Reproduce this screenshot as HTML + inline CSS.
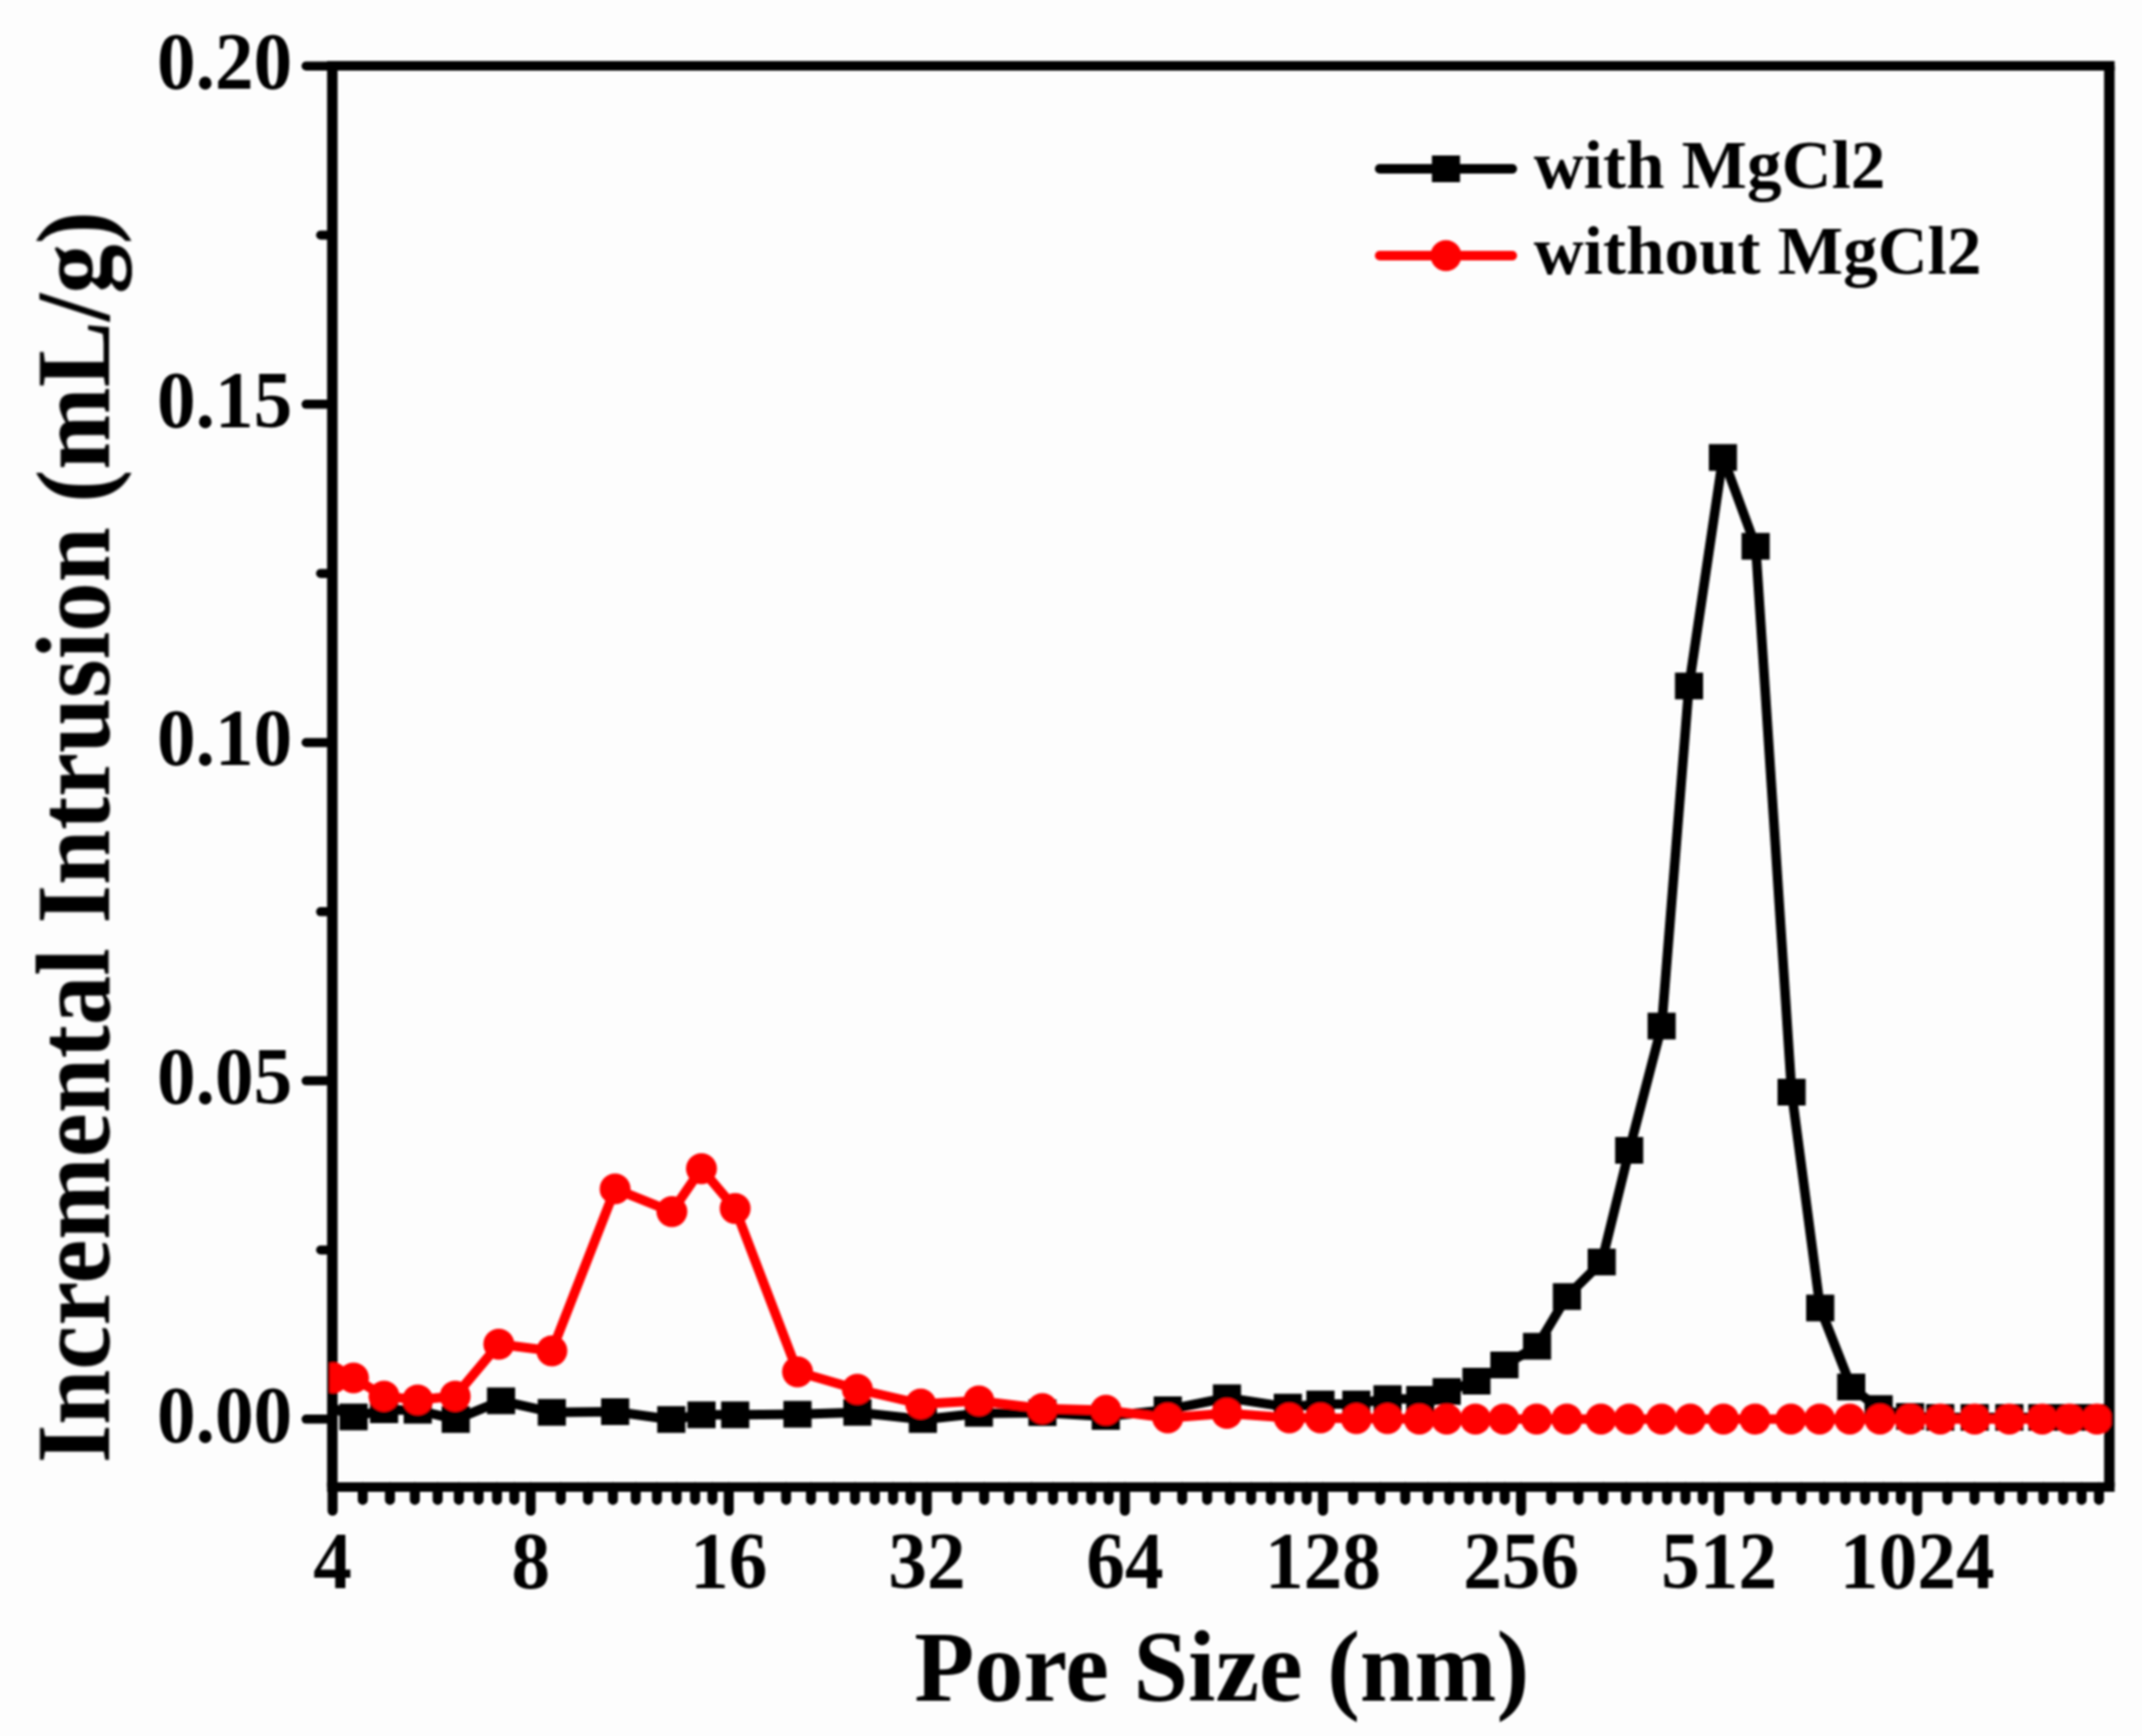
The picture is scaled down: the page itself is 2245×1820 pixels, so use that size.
<!DOCTYPE html>
<html lang="en"><head><meta charset="utf-8"><title>Pore size distribution</title>
<style>
html,body{margin:0;padding:0;background:#fdfdfd;}
body{width:2245px;height:1820px;overflow:hidden;}
svg{display:block;}
text{font-family:"Liberation Serif","Times New Roman",Times,serif;font-weight:bold;fill:#000;}
.tick{font-size:84px;}
.title{font-size:103px;}
.leg{font-size:72.5px;}
</style></head><body>
<svg width="2245" height="1820" viewBox="0 0 2245 1820">
<rect x="0" y="0" width="2245" height="1820" fill="#fdfdfd"/>
<defs><filter id="soft" x="0" y="0" width="2245" height="1820" filterUnits="userSpaceOnUse"><feGaussianBlur stdDeviation="1.1"/></filter><clipPath id="plot"><rect x="345.3" y="69.1" width="1867.5000000000002" height="1489.9"/></clipPath></defs>

<g filter="url(#soft)">
<g id="axes" stroke="#000" stroke-width="9.5" stroke-linecap="round" fill="none">
<line x1="342.8" y1="69.1" x2="2216.3" y2="69.1" stroke-width="10.0" stroke-linecap="butt"/>
<line x1="342.8" y1="1559.0" x2="2216.3" y2="1559.0" stroke-width="10.0" stroke-linecap="butt"/>
<line x1="348.3" y1="69.1" x2="348.3" y2="1559.0" stroke-width="11.0" stroke-linecap="butt"/>
<line x1="2210.8" y1="69.1" x2="2210.8" y2="1559.0" stroke-width="11.0" stroke-linecap="butt"/>
<line x1="320.8" y1="1487.8" x2="347.3" y2="1487.8"/>
<line x1="320.8" y1="1133.1" x2="347.3" y2="1133.1"/>
<line x1="320.8" y1="778.5" x2="347.3" y2="778.5"/>
<line x1="320.8" y1="423.8" x2="347.3" y2="423.8"/>
<line x1="320.8" y1="69.2" x2="347.3" y2="69.2"/>
<line x1="336.0" y1="1310.5" x2="347.3" y2="1310.5"/>
<line x1="336.0" y1="955.8" x2="347.3" y2="955.8"/>
<line x1="336.0" y1="601.2" x2="347.3" y2="601.2"/>
<line x1="336.0" y1="246.5" x2="347.3" y2="246.5"/>
<line x1="348.6" y1="1559.0" x2="348.6" y2="1583.8" stroke-width="10.5"/>
<line x1="380.2" y1="1559.0" x2="380.2" y2="1572.4" stroke-width="10.5"/>
<line x1="408.7" y1="1559.0" x2="408.7" y2="1572.4" stroke-width="10.5"/>
<line x1="434.8" y1="1559.0" x2="434.8" y2="1572.4" stroke-width="10.5"/>
<line x1="458.7" y1="1559.0" x2="458.7" y2="1572.4" stroke-width="10.5"/>
<line x1="480.9" y1="1559.0" x2="480.9" y2="1572.4" stroke-width="10.5"/>
<line x1="501.6" y1="1559.0" x2="501.6" y2="1572.4" stroke-width="10.5"/>
<line x1="520.9" y1="1559.0" x2="520.9" y2="1572.4" stroke-width="10.5"/>
<line x1="539.1" y1="1559.0" x2="539.1" y2="1572.4" stroke-width="10.5"/>
<line x1="556.2" y1="1559.0" x2="556.2" y2="1583.8" stroke-width="10.5"/>
<line x1="587.8" y1="1559.0" x2="587.8" y2="1572.4" stroke-width="10.5"/>
<line x1="616.3" y1="1559.0" x2="616.3" y2="1572.4" stroke-width="10.5"/>
<line x1="642.4" y1="1559.0" x2="642.4" y2="1572.4" stroke-width="10.5"/>
<line x1="666.3" y1="1559.0" x2="666.3" y2="1572.4" stroke-width="10.5"/>
<line x1="688.5" y1="1559.0" x2="688.5" y2="1572.4" stroke-width="10.5"/>
<line x1="709.2" y1="1559.0" x2="709.2" y2="1572.4" stroke-width="10.5"/>
<line x1="728.5" y1="1559.0" x2="728.5" y2="1572.4" stroke-width="10.5"/>
<line x1="746.7" y1="1559.0" x2="746.7" y2="1572.4" stroke-width="10.5"/>
<line x1="763.8" y1="1559.0" x2="763.8" y2="1583.8" stroke-width="10.5"/>
<line x1="795.4" y1="1559.0" x2="795.4" y2="1572.4" stroke-width="10.5"/>
<line x1="823.9" y1="1559.0" x2="823.9" y2="1572.4" stroke-width="10.5"/>
<line x1="850.0" y1="1559.0" x2="850.0" y2="1572.4" stroke-width="10.5"/>
<line x1="873.9" y1="1559.0" x2="873.9" y2="1572.4" stroke-width="10.5"/>
<line x1="896.1" y1="1559.0" x2="896.1" y2="1572.4" stroke-width="10.5"/>
<line x1="916.8" y1="1559.0" x2="916.8" y2="1572.4" stroke-width="10.5"/>
<line x1="936.1" y1="1559.0" x2="936.1" y2="1572.4" stroke-width="10.5"/>
<line x1="954.3" y1="1559.0" x2="954.3" y2="1572.4" stroke-width="10.5"/>
<line x1="971.4" y1="1559.0" x2="971.4" y2="1583.8" stroke-width="10.5"/>
<line x1="1003.0" y1="1559.0" x2="1003.0" y2="1572.4" stroke-width="10.5"/>
<line x1="1031.5" y1="1559.0" x2="1031.5" y2="1572.4" stroke-width="10.5"/>
<line x1="1057.6" y1="1559.0" x2="1057.6" y2="1572.4" stroke-width="10.5"/>
<line x1="1081.5" y1="1559.0" x2="1081.5" y2="1572.4" stroke-width="10.5"/>
<line x1="1103.7" y1="1559.0" x2="1103.7" y2="1572.4" stroke-width="10.5"/>
<line x1="1124.4" y1="1559.0" x2="1124.4" y2="1572.4" stroke-width="10.5"/>
<line x1="1143.7" y1="1559.0" x2="1143.7" y2="1572.4" stroke-width="10.5"/>
<line x1="1161.9" y1="1559.0" x2="1161.9" y2="1572.4" stroke-width="10.5"/>
<line x1="1179.0" y1="1559.0" x2="1179.0" y2="1583.8" stroke-width="10.5"/>
<line x1="1210.6" y1="1559.0" x2="1210.6" y2="1572.4" stroke-width="10.5"/>
<line x1="1239.1" y1="1559.0" x2="1239.1" y2="1572.4" stroke-width="10.5"/>
<line x1="1265.2" y1="1559.0" x2="1265.2" y2="1572.4" stroke-width="10.5"/>
<line x1="1289.1" y1="1559.0" x2="1289.1" y2="1572.4" stroke-width="10.5"/>
<line x1="1311.3" y1="1559.0" x2="1311.3" y2="1572.4" stroke-width="10.5"/>
<line x1="1332.0" y1="1559.0" x2="1332.0" y2="1572.4" stroke-width="10.5"/>
<line x1="1351.3" y1="1559.0" x2="1351.3" y2="1572.4" stroke-width="10.5"/>
<line x1="1369.5" y1="1559.0" x2="1369.5" y2="1572.4" stroke-width="10.5"/>
<line x1="1386.6" y1="1559.0" x2="1386.6" y2="1583.8" stroke-width="10.5"/>
<line x1="1418.2" y1="1559.0" x2="1418.2" y2="1572.4" stroke-width="10.5"/>
<line x1="1446.7" y1="1559.0" x2="1446.7" y2="1572.4" stroke-width="10.5"/>
<line x1="1472.8" y1="1559.0" x2="1472.8" y2="1572.4" stroke-width="10.5"/>
<line x1="1496.7" y1="1559.0" x2="1496.7" y2="1572.4" stroke-width="10.5"/>
<line x1="1518.9" y1="1559.0" x2="1518.9" y2="1572.4" stroke-width="10.5"/>
<line x1="1539.6" y1="1559.0" x2="1539.6" y2="1572.4" stroke-width="10.5"/>
<line x1="1558.9" y1="1559.0" x2="1558.9" y2="1572.4" stroke-width="10.5"/>
<line x1="1577.1" y1="1559.0" x2="1577.1" y2="1572.4" stroke-width="10.5"/>
<line x1="1594.2" y1="1559.0" x2="1594.2" y2="1583.8" stroke-width="10.5"/>
<line x1="1625.8" y1="1559.0" x2="1625.8" y2="1572.4" stroke-width="10.5"/>
<line x1="1654.3" y1="1559.0" x2="1654.3" y2="1572.4" stroke-width="10.5"/>
<line x1="1680.4" y1="1559.0" x2="1680.4" y2="1572.4" stroke-width="10.5"/>
<line x1="1704.3" y1="1559.0" x2="1704.3" y2="1572.4" stroke-width="10.5"/>
<line x1="1726.5" y1="1559.0" x2="1726.5" y2="1572.4" stroke-width="10.5"/>
<line x1="1747.2" y1="1559.0" x2="1747.2" y2="1572.4" stroke-width="10.5"/>
<line x1="1766.5" y1="1559.0" x2="1766.5" y2="1572.4" stroke-width="10.5"/>
<line x1="1784.7" y1="1559.0" x2="1784.7" y2="1572.4" stroke-width="10.5"/>
<line x1="1801.8" y1="1559.0" x2="1801.8" y2="1583.8" stroke-width="10.5"/>
<line x1="1833.4" y1="1559.0" x2="1833.4" y2="1572.4" stroke-width="10.5"/>
<line x1="1861.9" y1="1559.0" x2="1861.9" y2="1572.4" stroke-width="10.5"/>
<line x1="1888.0" y1="1559.0" x2="1888.0" y2="1572.4" stroke-width="10.5"/>
<line x1="1911.9" y1="1559.0" x2="1911.9" y2="1572.4" stroke-width="10.5"/>
<line x1="1934.1" y1="1559.0" x2="1934.1" y2="1572.4" stroke-width="10.5"/>
<line x1="1954.8" y1="1559.0" x2="1954.8" y2="1572.4" stroke-width="10.5"/>
<line x1="1974.1" y1="1559.0" x2="1974.1" y2="1572.4" stroke-width="10.5"/>
<line x1="1992.3" y1="1559.0" x2="1992.3" y2="1572.4" stroke-width="10.5"/>
<line x1="2009.4" y1="1559.0" x2="2009.4" y2="1583.8" stroke-width="10.5"/>
<line x1="2041.0" y1="1559.0" x2="2041.0" y2="1572.4" stroke-width="10.5"/>
<line x1="2069.5" y1="1559.0" x2="2069.5" y2="1572.4" stroke-width="10.5"/>
<line x1="2095.6" y1="1559.0" x2="2095.6" y2="1572.4" stroke-width="10.5"/>
<line x1="2119.5" y1="1559.0" x2="2119.5" y2="1572.4" stroke-width="10.5"/>
<line x1="2141.7" y1="1559.0" x2="2141.7" y2="1572.4" stroke-width="10.5"/>
<line x1="2162.4" y1="1559.0" x2="2162.4" y2="1572.4" stroke-width="10.5"/>
<line x1="2181.7" y1="1559.0" x2="2181.7" y2="1572.4" stroke-width="10.5"/>
<line x1="2199.9" y1="1559.0" x2="2199.9" y2="1572.4" stroke-width="10.5"/>
</g>
<g class="tick" text-anchor="end">
<text transform="translate(306.3,1511.5) scale(0.965,1)">0.00</text>
<text transform="translate(306.3,1156.8) scale(0.965,1)">0.05</text>
<text transform="translate(306.3,802.2) scale(0.965,1)">0.10</text>
<text transform="translate(306.3,447.5) scale(0.965,1)">0.15</text>
<text transform="translate(306.3,92.9) scale(0.965,1)">0.20</text>
</g>
<g class="tick" text-anchor="middle">
<text transform="translate(348.6,1664.5) scale(0.965,1)">4</text>
<text transform="translate(556.2,1664.5) scale(0.965,1)">8</text>
<text transform="translate(763.8,1664.5) scale(0.965,1)">16</text>
<text transform="translate(971.4,1664.5) scale(0.965,1)">32</text>
<text transform="translate(1179.0,1664.5) scale(0.965,1)">64</text>
<text transform="translate(1386.6,1664.5) scale(0.965,1)">128</text>
<text transform="translate(1594.2,1664.5) scale(0.965,1)">256</text>
<text transform="translate(1801.8,1664.5) scale(0.965,1)">512</text>
<text transform="translate(2009.4,1664.5) scale(0.965,1)">1024</text>
</g>
<text class="title" text-anchor="middle" transform="translate(1280.5,1783) scale(1,1.02)">Pore Size (nm)</text>
<text class="title" style="font-size:103.8px" text-anchor="middle" transform="translate(114,877.7) rotate(-90) scale(1,1.06)">Incremental Intrusion (mL/g)</text>
<g clip-path="url(#plot)">
<polyline points="349.0,1476.0 370.5,1485.5 402.5,1478.0 437.8,1478.5 477.7,1488.2 525.1,1468.6 578.4,1480.7 644.7,1480.0 703.5,1488.2 735.2,1483.3 770.5,1483.3 835.9,1482.7 898.6,1480.7 967.3,1488.2 1026.0,1481.7 1092.5,1481.0 1159.0,1485.0 1223.9,1478.0 1285.9,1465.4 1349.7,1475.2 1384.0,1471.9 1421.6,1471.9 1454.2,1466.3 1488.6,1467.0 1516.3,1458.8 1547.4,1448.0 1576.8,1431.0 1611.0,1411.4 1642.2,1359.3 1678.7,1323.1 1707.6,1206.0 1741.6,1075.7 1770.2,719.2 1805.8,479.6 1840.1,572.7 1877.8,1145.0 1907.7,1371.3 1940.3,1454.1 1968.9,1476.7 2002.0,1485.0 2033.6,1486.0 2069.7,1486.0 2105.9,1486.0 2140.5,1486.0 2169.1,1486.0 2197.7,1486.0" fill="none" stroke="#000" stroke-width="10" stroke-linejoin="round"/>
<rect x="355.8" y="1471.5" width="29.5" height="28.0" fill="#000"/>
<rect x="387.8" y="1464.0" width="29.5" height="28.0" fill="#000"/>
<rect x="423.1" y="1464.5" width="29.5" height="28.0" fill="#000"/>
<rect x="462.9" y="1474.2" width="29.5" height="28.0" fill="#000"/>
<rect x="510.4" y="1454.6" width="29.5" height="28.0" fill="#000"/>
<rect x="563.6" y="1466.7" width="29.5" height="28.0" fill="#000"/>
<rect x="630.0" y="1466.0" width="29.5" height="28.0" fill="#000"/>
<rect x="688.8" y="1474.2" width="29.5" height="28.0" fill="#000"/>
<rect x="720.5" y="1469.3" width="29.5" height="28.0" fill="#000"/>
<rect x="755.8" y="1469.3" width="29.5" height="28.0" fill="#000"/>
<rect x="821.1" y="1468.7" width="29.5" height="28.0" fill="#000"/>
<rect x="883.9" y="1466.7" width="29.5" height="28.0" fill="#000"/>
<rect x="952.5" y="1474.2" width="29.5" height="28.0" fill="#000"/>
<rect x="1011.2" y="1467.7" width="29.5" height="28.0" fill="#000"/>
<rect x="1077.8" y="1467.0" width="29.5" height="28.0" fill="#000"/>
<rect x="1144.2" y="1471.0" width="29.5" height="28.0" fill="#000"/>
<rect x="1209.2" y="1464.0" width="29.5" height="28.0" fill="#000"/>
<rect x="1271.2" y="1451.4" width="29.5" height="28.0" fill="#000"/>
<rect x="1335.0" y="1461.2" width="29.5" height="28.0" fill="#000"/>
<rect x="1369.2" y="1457.9" width="29.5" height="28.0" fill="#000"/>
<rect x="1406.8" y="1457.9" width="29.5" height="28.0" fill="#000"/>
<rect x="1439.5" y="1452.3" width="29.5" height="28.0" fill="#000"/>
<rect x="1473.8" y="1453.0" width="29.5" height="28.0" fill="#000"/>
<rect x="1501.5" y="1444.8" width="29.5" height="28.0" fill="#000"/>
<rect x="1532.7" y="1434.0" width="29.5" height="28.0" fill="#000"/>
<rect x="1562.0" y="1417.0" width="29.5" height="28.0" fill="#000"/>
<rect x="1596.2" y="1397.4" width="29.5" height="28.0" fill="#000"/>
<rect x="1627.5" y="1345.3" width="29.5" height="28.0" fill="#000"/>
<rect x="1664.0" y="1309.1" width="29.5" height="28.0" fill="#000"/>
<rect x="1692.8" y="1192.0" width="29.5" height="28.0" fill="#000"/>
<rect x="1726.8" y="1061.7" width="29.5" height="28.0" fill="#000"/>
<rect x="1755.5" y="705.2" width="29.5" height="28.0" fill="#000"/>
<rect x="1791.0" y="465.6" width="29.5" height="28.0" fill="#000"/>
<rect x="1825.3" y="558.7" width="29.5" height="28.0" fill="#000"/>
<rect x="1863.0" y="1131.0" width="29.5" height="28.0" fill="#000"/>
<rect x="1893.0" y="1357.3" width="29.5" height="28.0" fill="#000"/>
<rect x="1925.5" y="1440.1" width="29.5" height="28.0" fill="#000"/>
<rect x="1954.2" y="1462.7" width="29.5" height="28.0" fill="#000"/>
<rect x="1987.2" y="1471.0" width="29.5" height="28.0" fill="#000"/>
<rect x="2018.8" y="1472.0" width="29.5" height="28.0" fill="#000"/>
<rect x="2054.9" y="1472.0" width="29.5" height="28.0" fill="#000"/>
<rect x="2091.2" y="1472.0" width="29.5" height="28.0" fill="#000"/>
<rect x="2125.8" y="1472.0" width="29.5" height="28.0" fill="#000"/>
<rect x="2154.3" y="1472.0" width="29.5" height="28.0" fill="#000"/>
<rect x="2182.9" y="1472.0" width="29.5" height="28.0" fill="#000"/>
<polyline points="349.0,1444.5 370.5,1444.6 402.5,1463.7 437.8,1467.6 477.1,1463.7 522.8,1409.2 578.4,1416.3 644.7,1246.4 704.2,1270.3 735.2,1225.2 770.5,1267.0 835.9,1438.2 898.6,1456.5 965.0,1471.9 1026.0,1468.6 1092.5,1476.8 1159.2,1478.4 1223.9,1486.6 1285.9,1481.7 1351.3,1486.6 1384.0,1486.6 1421.6,1487.3 1454.2,1487.3 1487.6,1487.7 1516.3,1487.7 1546.4,1487.7 1576.1,1487.7 1610.5,1487.7 1642.2,1487.7 1678.0,1487.7 1707.5,1487.7 1741.5,1487.7 1771.6,1487.7 1806.3,1487.7 1839.4,1487.7 1877.0,1487.7 1907.1,1487.7 1938.8,1487.7 1970.4,1487.7 2002.0,1487.7 2033.6,1487.7 2069.7,1487.7 2105.9,1487.7 2140.5,1487.7 2169.1,1487.7 2197.7,1487.7" fill="none" stroke="#ff0000" stroke-width="10" stroke-linejoin="round"/>
<circle cx="349.0" cy="1444.5" r="16.2" fill="#ff0000"/>
<circle cx="370.5" cy="1444.6" r="16.2" fill="#ff0000"/>
<circle cx="402.5" cy="1463.7" r="16.2" fill="#ff0000"/>
<circle cx="437.8" cy="1467.6" r="16.2" fill="#ff0000"/>
<circle cx="477.1" cy="1463.7" r="16.2" fill="#ff0000"/>
<circle cx="522.8" cy="1409.2" r="16.2" fill="#ff0000"/>
<circle cx="578.4" cy="1416.3" r="16.2" fill="#ff0000"/>
<circle cx="644.7" cy="1246.4" r="16.2" fill="#ff0000"/>
<circle cx="704.2" cy="1270.3" r="16.2" fill="#ff0000"/>
<circle cx="735.2" cy="1225.2" r="16.2" fill="#ff0000"/>
<circle cx="770.5" cy="1267.0" r="16.2" fill="#ff0000"/>
<circle cx="835.9" cy="1438.2" r="16.2" fill="#ff0000"/>
<circle cx="898.6" cy="1456.5" r="16.2" fill="#ff0000"/>
<circle cx="965.0" cy="1471.9" r="16.2" fill="#ff0000"/>
<circle cx="1026.0" cy="1468.6" r="16.2" fill="#ff0000"/>
<circle cx="1092.5" cy="1476.8" r="16.2" fill="#ff0000"/>
<circle cx="1159.2" cy="1478.4" r="16.2" fill="#ff0000"/>
<circle cx="1223.9" cy="1486.6" r="16.2" fill="#ff0000"/>
<circle cx="1285.9" cy="1481.7" r="16.2" fill="#ff0000"/>
<circle cx="1351.3" cy="1486.6" r="16.2" fill="#ff0000"/>
<circle cx="1384.0" cy="1486.6" r="16.2" fill="#ff0000"/>
<circle cx="1421.6" cy="1487.3" r="16.2" fill="#ff0000"/>
<circle cx="1454.2" cy="1487.3" r="16.2" fill="#ff0000"/>
<circle cx="1487.6" cy="1487.7" r="16.2" fill="#ff0000"/>
<circle cx="1516.3" cy="1487.7" r="16.2" fill="#ff0000"/>
<circle cx="1546.4" cy="1487.7" r="16.2" fill="#ff0000"/>
<circle cx="1576.1" cy="1487.7" r="16.2" fill="#ff0000"/>
<circle cx="1610.5" cy="1487.7" r="16.2" fill="#ff0000"/>
<circle cx="1642.2" cy="1487.7" r="16.2" fill="#ff0000"/>
<circle cx="1678.0" cy="1487.7" r="16.2" fill="#ff0000"/>
<circle cx="1707.5" cy="1487.7" r="16.2" fill="#ff0000"/>
<circle cx="1741.5" cy="1487.7" r="16.2" fill="#ff0000"/>
<circle cx="1771.6" cy="1487.7" r="16.2" fill="#ff0000"/>
<circle cx="1806.3" cy="1487.7" r="16.2" fill="#ff0000"/>
<circle cx="1839.4" cy="1487.7" r="16.2" fill="#ff0000"/>
<circle cx="1877.0" cy="1487.7" r="16.2" fill="#ff0000"/>
<circle cx="1907.1" cy="1487.7" r="16.2" fill="#ff0000"/>
<circle cx="1938.8" cy="1487.7" r="16.2" fill="#ff0000"/>
<circle cx="1970.4" cy="1487.7" r="16.2" fill="#ff0000"/>
<circle cx="2002.0" cy="1487.7" r="16.2" fill="#ff0000"/>
<circle cx="2033.6" cy="1487.7" r="16.2" fill="#ff0000"/>
<circle cx="2069.7" cy="1487.7" r="16.2" fill="#ff0000"/>
<circle cx="2105.9" cy="1487.7" r="16.2" fill="#ff0000"/>
<circle cx="2140.5" cy="1487.7" r="16.2" fill="#ff0000"/>
<circle cx="2169.1" cy="1487.7" r="16.2" fill="#ff0000"/>
<circle cx="2197.7" cy="1487.7" r="16.2" fill="#ff0000"/>
</g>
<line x1="1446" y1="177" x2="1585" y2="177" stroke="#000" stroke-width="10" stroke-linecap="round"/>
<rect x="1500.75" y="163.0" width="29.5" height="28.0" fill="#000"/>
<line x1="1446" y1="268" x2="1585" y2="268" stroke="#ff0000" stroke-width="10" stroke-linecap="round"/>
<circle cx="1515.5" cy="268" r="16.2" fill="#ff0000"/>
<text class="leg" x="1607.5" y="197.3">with MgCl2</text>
<text class="leg" x="1607.5" y="287.3">without MgCl2</text>
</g>
</svg></body></html>
